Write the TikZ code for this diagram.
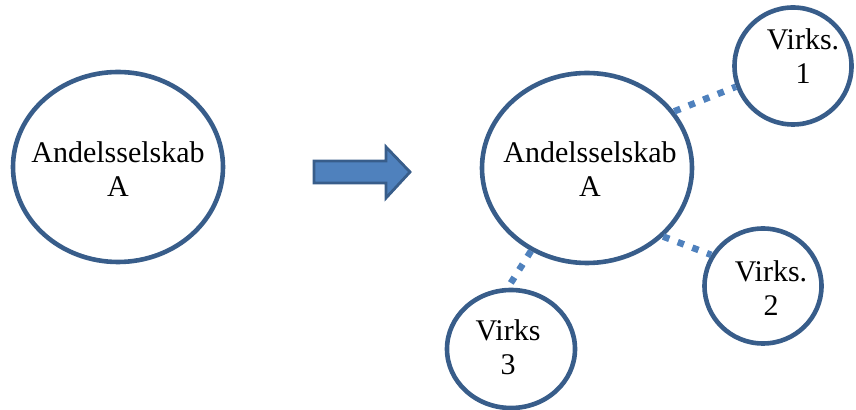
\documentclass[tikz,border=0pt]{standalone}
\usepackage{fontspec}
\setmainfont{Liberation Serif}
\usetikzlibrary{shapes.geometric}
\definecolor{kant}{RGB}{56,93,138}
\definecolor{prik}{RGB}{79,129,189}

\begin{document}
\begin{tikzpicture}[x=0.5pt, y=-0.5pt,
    selskab/.style={ellipse, draw=kant, line width=2.3pt, inner sep=0pt, minimum width=105pt, minimum height=95pt},
    virk/.style={ellipse, draw=kant, line width=2.3pt, inner sep=0pt},
    tekst/.style={align=center, inner sep=0pt, font=\fontsize{15}{17}\selectfont},
    prikket/.style={draw=prik, line width=3.3pt, dash pattern=on 3.3pt off 4.5pt}]
    \useasboundingbox (0,0) rectangle (856,410);
    % Foer: et andelsselskab alene
    \node[selskab] (alene) at (118,167) {};
    \node[tekst] (alenetekst) at (118,169) {Andelsselskab\\A};
    % Pil
    \draw[line width=1.4pt, draw=kant, fill=prik] (314,161) -- (386,161) -- (386,147) -- (410,172)
        -- (386,198) -- (386,183) -- (314,183) -- cycle;
    % Efter: andelsselskab med virksomheder
    \node[selskab] (stor) at (587,168) {};
    \node[tekst] (stortekst) at (590,169) {Andelsselskab\\A};
    \node[virk, minimum width=58.5pt, minimum height=58.5pt] (v1) at (793,66) {};
    \node[tekst] (v1tekst) at (803,56) {Virks.\\1};
    \node[virk, minimum width=58.5pt, minimum height=57.5pt] (v2) at (763,286) {};
    \node[tekst] (v2tekst) at (771,288) {Virks.\\2};
    \node[virk, minimum width=64pt, minimum height=59pt] (v3) at (511,349) {};
    \node[tekst] (v3tekst) at (508,347) {Virks\\3};
    % Prikkede forbindelser
    \draw[prikket] (stor.33) -- (v1.200);
    \draw[prikket] (stor.-42) -- (v2.149);
    \draw[prikket] (stor.236) -- (v3.93);
\end{tikzpicture}
\end{document}
